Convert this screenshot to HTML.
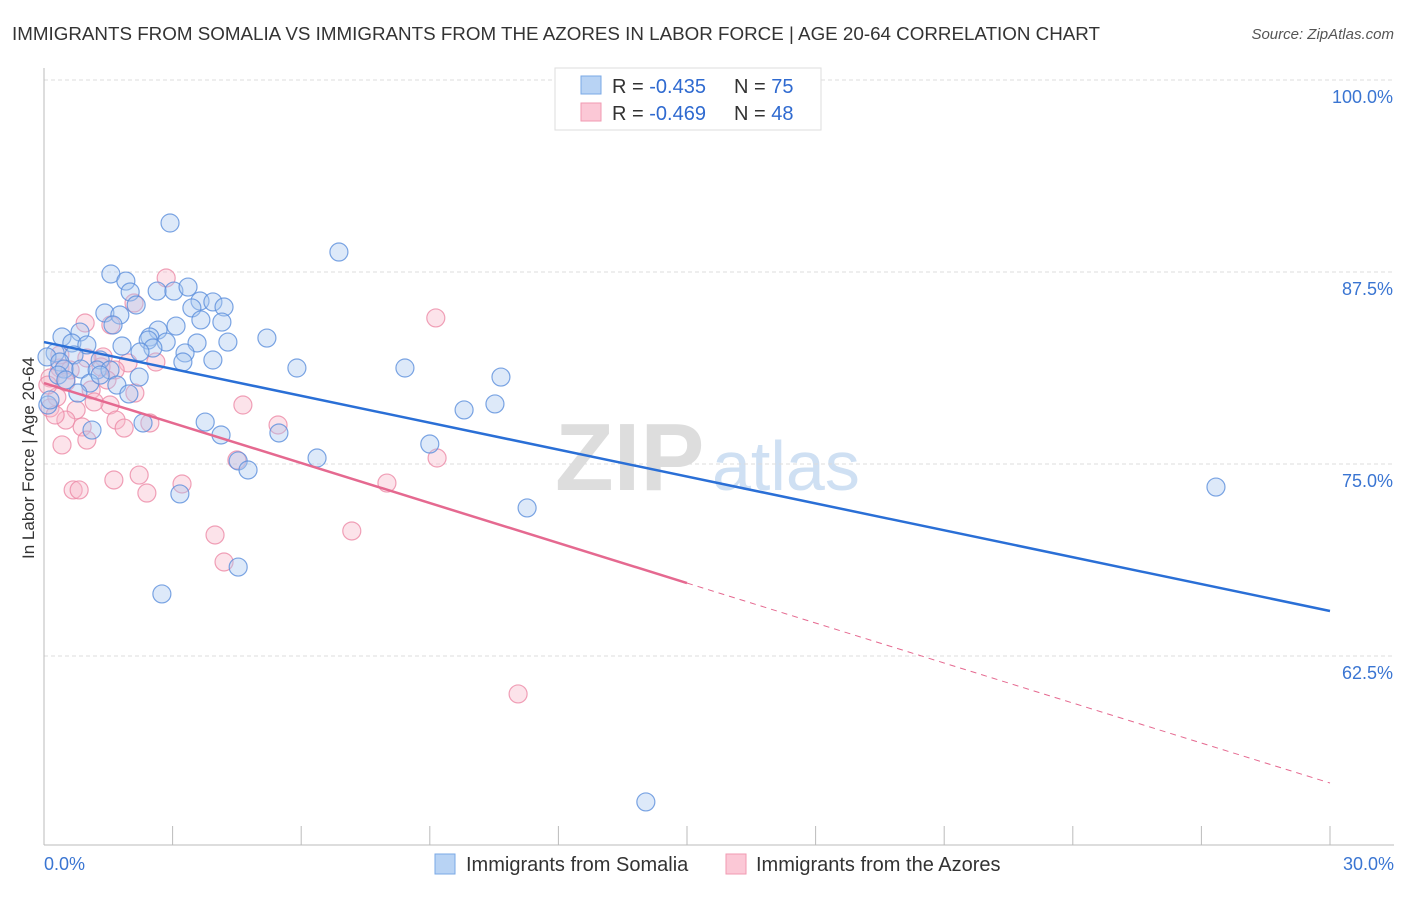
<!DOCTYPE html>
<html><head><meta charset="utf-8"><style>
body{margin:0;background:#fff;font-family:"Liberation Sans",sans-serif}
svg text{font-family:"Liberation Sans",sans-serif}
</style></head><body>
<svg id="chart" width="1406" height="892" xmlns="http://www.w3.org/2000/svg">
<text x="12" y="40" font-size="18" fill="#333" textLength="1088" lengthAdjust="spacingAndGlyphs">IMMIGRANTS FROM SOMALIA VS IMMIGRANTS FROM THE AZORES IN LABOR FORCE | AGE 20-64 CORRELATION CHART</text>
<text x="1394" y="39" font-size="15" fill="#555" text-anchor="end" font-style="italic">Source: ZipAtlas.com</text>
<g>
<text x="555" y="490" font-size="96" fill="#ddd" font-family="Liberation Serif" font-weight="bold">ZIP</text>
<text x="712" y="490" font-size="70" fill="#cfe0f3">atlas</text>
</g>
<g id="grid"></g>
<g id="axes"></g>
<g id="marks"></g>
<text transform="translate(34,458) rotate(-90)" font-size="17" fill="#333" text-anchor="middle">In Labor Force | Age 20-64</text>
<g>
<rect x="555" y="68" width="266" height="62" fill="#fff" stroke="#ddd"/>
<rect x="581" y="76" width="20" height="18" fill="#b8d3f4" stroke="#7aa8e6"/>
<rect x="581" y="103" width="20" height="18" fill="#fbc8d6" stroke="#f09ab2"/>
<text x="612" y="93" font-size="20" fill="#333">R = <tspan fill="#2f6ad0">-0.435</tspan></text>
<text x="734" y="93" font-size="20" fill="#333">N = <tspan fill="#2f6ad0">75</tspan></text>
<text x="612" y="120" font-size="20" fill="#333">R = <tspan fill="#2f6ad0">-0.469</tspan></text>
<text x="734" y="120" font-size="20" fill="#333">N = <tspan fill="#2f6ad0">48</tspan></text>
</g>
<g>
<rect x="435" y="854" width="20" height="20" fill="#b8d3f4" stroke="#7aa8e6"/>
<text x="466" y="871" font-size="20" fill="#333">Immigrants from Somalia</text>
<rect x="726" y="854" width="20" height="20" fill="#fbc8d6" stroke="#f09ab2"/>
<text x="756" y="871" font-size="20" fill="#333">Immigrants from the Azores</text>
</g>
</svg>
<script>
const xTicks=[0,3,6,9,12,15,18,21,24,27,30];
const yTicks=[100,87.5,75,62.5];
const yTickLabels=["100.0%","87.5%","75.0%","62.5%"];
const blueX=[2.94,6.88,1.56,1.91,2.64,2.01,3.03,3.36,3.64,3.94,4.20,3.45,1.42,1.77,2.15,3.66,4.15,1.61,3.08,2.66,0.84,0.42,2.47,2.43,2.85,3.57,4.29,5.20,0.65,1.00,1.82,2.54,2.24,3.29,0.26,0.70,0.07,0.37,1.31,3.94,3.24,5.90,8.42,0.47,0.86,1.24,1.54,0.33,2.22,10.66,1.07,1.70,1.98,0.79,0.09,9.80,10.52,2.31,3.76,1.12,4.13,5.48,9.00,4.53,6.37,4.76,3.17,11.27,27.34,4.53,2.75,14.04,0.14,1.31,0.51];
const blueY=[90.69,88.80,87.37,86.91,86.26,86.20,86.26,86.52,85.61,85.55,85.22,85.16,84.83,84.70,85.35,84.38,84.24,84.05,83.98,83.72,83.59,83.27,83.27,83.07,82.94,82.88,82.94,83.20,82.88,82.75,82.68,82.55,82.29,82.23,82.23,82.10,81.97,81.64,81.77,81.77,81.64,81.25,81.25,81.18,81.18,81.12,81.12,80.79,80.66,80.66,80.27,80.14,79.56,79.62,78.84,78.52,78.91,77.67,77.73,77.21,76.89,77.02,76.30,75.20,75.39,74.61,73.05,72.14,73.50,68.29,66.54,53.00,79.17,80.79,80.47];
const pinkX=[2.85,2.10,0.96,1.56,9.14,1.38,1.96,2.61,0.37,0.61,1.66,0.14,1.47,0.51,1.10,2.12,0.30,4.64,1.54,1.17,0.75,0.14,2.47,0.51,1.68,5.46,0.89,1.87,1.00,0.42,4.50,9.17,2.22,1.63,3.22,8.00,0.68,0.82,2.40,3.99,7.18,4.20,11.06,0.09,0.26,1.33,0.37,1.00];
const pinkY=[87.11,85.48,84.18,84.05,84.51,81.97,81.58,81.64,81.25,81.12,81.12,80.60,80.47,80.34,79.82,79.62,79.36,78.84,78.84,79.04,78.52,78.65,77.67,77.86,77.86,77.54,77.41,77.34,76.56,76.24,75.26,75.39,74.28,73.96,73.70,73.76,73.31,73.31,73.11,70.38,70.64,68.62,60.03,80.14,78.19,81.32,82.10,81.90];
const blueTrend=[[0,82.94],[30,65.43]];
const pinkTrend=[[0,80.27],[15,67.25],[30,54.23]];
const NS="http://www.w3.org/2000/svg";
const sx=v=>44+v/30*1286;
const sy=v=>80+(100-v)/12.5*192;
function mk(tag,attrs,parent){const e=document.createElementNS(NS,tag);for(const k in attrs)e.setAttribute(k,attrs[k]);parent.appendChild(e);return e;}
const grid=document.getElementById('grid'),axes=document.getElementById('axes'),marks=document.getElementById('marks');
yTicks.forEach((t,i)=>{
 const l=mk('line',{x1:44,x2:1394,y1:sy(t),y2:sy(t),stroke:'#ddd','stroke-dasharray':'4,3'},grid);
 
 
 const tx=mk('text',{x:1393,y:sy(t)+23,'font-size':18,fill:'#3a75d2','text-anchor':'end'},axes);
 tx.textContent=yTickLabels[i];
 
 
});
const ax=mk('line',{x1:44,x2:1394,y1:845,y2:845,stroke:'#bbb'},axes);


const ay=mk('line',{x1:44,x2:44,y1:68,y2:845,stroke:'#bbb'},axes);


xTicks.forEach(t=>{
 const l=mk('line',{x1:sx(t),x2:sx(t),y1:826,y2:845,stroke:'#bbb'},axes);
 
 
});
const xl0=mk('text',{x:44,y:870,'font-size':18,fill:'#3a75d2'},axes);xl0.textContent='0.0%';


const xl1=mk('text',{x:1394,y:870,'font-size':18,fill:'#3a75d2','text-anchor':'end'},axes);xl1.textContent='30.0%';


function dots(X,Y,fill,stroke,name){X.forEach((x,i)=>{
 const c=mk('circle',{cx:sx(x),cy:sy(Y[i]),r:9,fill:fill,'fill-opacity':0.4,stroke:stroke,'stroke-opacity':0.8,'stroke-width':1.2},marks);
 
 
});}
dots(pinkX,pinkY,'#f7b8ca','#ec8aa6','azores-point');
dots(blueX,blueY,'#a9c8f0','#5b8fdc','somalia-point');
const bt=mk('line',{x1:sx(blueTrend[0][0]),y1:sy(blueTrend[0][1]),x2:sx(blueTrend[1][0]),y2:sy(blueTrend[1][1]),stroke:'#2a6fd6','stroke-width':2.5},marks);


const pt=mk('line',{x1:sx(pinkTrend[0][0]),y1:sy(pinkTrend[0][1]),x2:sx(pinkTrend[1][0]),y2:sy(pinkTrend[1][1]),stroke:'#e56990','stroke-width':2.5},marks);


const pd=mk('line',{x1:sx(pinkTrend[1][0]),y1:sy(pinkTrend[1][1]),x2:sx(pinkTrend[2][0]),y2:sy(pinkTrend[2][1]),stroke:'#e56990','stroke-width':1,'stroke-dasharray':'6,5'},marks);


</script>
</body></html>
